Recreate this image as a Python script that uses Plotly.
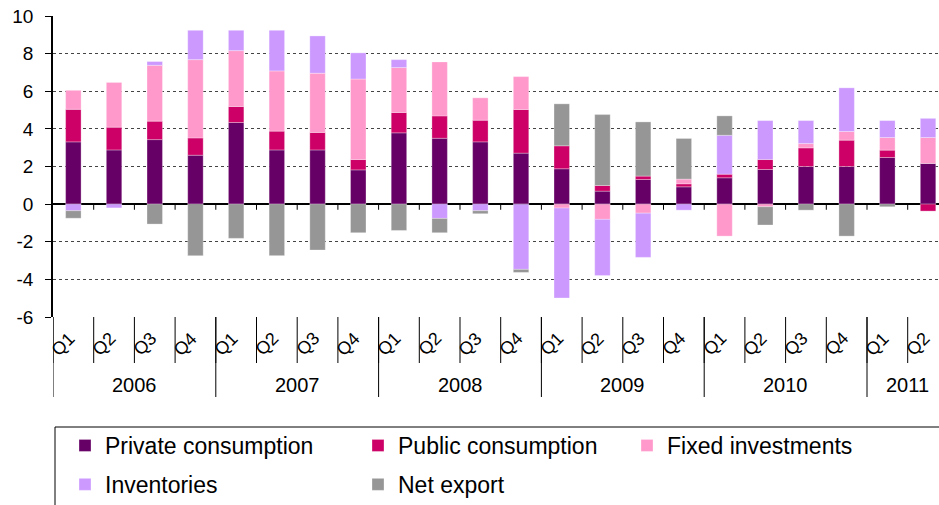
import plotly.graph_objects as go

quarters = ["Q1", "Q2", "Q3", "Q4"] * 5 + ["Q1", "Q2"]
years = ["2006", "2007", "2008", "2009", "2010", "2011"]
year_quarters = [4, 4, 4, 4, 4, 2]

private_consumption = [3.31, 2.88, 3.43, 2.60, 4.34, 2.88, 2.88, 1.82,
                       3.79, 3.50, 3.31, 2.71, 1.88, 0.69, 1.31, 0.92,
                       1.40, 1.84, 2.00, 2.00, 2.48, 2.16]
public_consumption = [1.73, 1.21, 0.98, 0.92, 0.85, 1.00, 0.93, 0.55,
                      1.08, 1.19, 1.15, 2.32, 1.22, 0.30, 0.18, 0.16,
                      0.19, 0.53, 0.99, 1.40, 0.39, -0.37]
fixed_investments = [1.01, 2.39, 2.97, 4.16, 2.97, 3.20, 3.15, 4.28,
                     2.39, 2.87, 1.19, 1.75, -0.21, -0.81, -0.48, 0.25,
                     -1.70, -0.14, 0.23, 0.46, 0.67, 1.38]
inventories = [-0.35, -0.20, 0.20, 1.56, 1.08, 2.16, 1.98, 1.39,
               0.42, -0.76, -0.35, -3.47, -4.78, -2.99, -2.35, -0.32,
               2.07, 2.07, 1.22, 2.32, 0.90, 1.03]
net_export = [-0.40, 0.00, -1.06, -2.74, -1.82, -2.74, -2.44, -1.52,
              -1.40, -0.76, -0.16, -0.16, 2.23, 3.77, 2.88, 2.16,
              1.03, -0.97, -0.32, -1.70, -0.14, 0.00]

y_ticks = [10, 8, 6, 4, 2, 0, -2, -4, -6]
y_tick_labels = ["10", "8", "6", "4", "2", "0", "-2", "-4", "-6"]

series = [
    ("Private consumption", private_consumption, "#660066", "legend"),
    ("Public consumption", public_consumption, "#CC0066", "legend2"),
    ("Fixed investments", fixed_investments, "#FF99CC", "legend3"),
    ("Inventories", inventories, "#CC99FF", "legend"),
    ("Net export", net_export, "#969696", "legend2"),
]

FONT = "Arial, Liberation Sans, sans-serif"
W, H = 939, 505
ML, MR, MT, MB = 53, 0, 16, 188
PW = W - ML - MR
PH = H - MT - MB

def px_to_paper_y(py):
    return (H - MB - py) / PH

def px_to_paper_x(px):
    return (px - ML) / PW

n = len(quarters)
x_idx = list(range(n))

fig = go.Figure()
for name, vals, color, leg in series:
    fig.add_trace(go.Bar(
        x=x_idx, y=vals, name=name, legend=leg, legendgroup=name,
        marker=dict(color=color, line=dict(color="rgba(255,255,255,0.5)", width=0.6)),
        width=0.38,
    ))

shapes = []
# small ticks on the zero line at category boundaries
for k in range(n - 1):
    shapes.append(dict(type="line", xref="x", yref="y", x0=k + 0.5, x1=k + 0.5,
                       y0=0, y1=-0.3, line=dict(color="black", width=1)))
# quarter dividers below the axis
for k in range(n + 1):
    shapes.append(dict(type="line", xref="x", yref="paper", x0=k - 0.5, x1=k - 0.5,
                       y0=0, y1=px_to_paper_y(363), line=dict(color="black", width=1)))
# year dividers
pos = 0
for cnt in year_quarters:
    shapes.append(dict(type="line", xref="x", yref="paper", x0=pos - 0.5, x1=pos - 0.5,
                       y0=0, y1=px_to_paper_y(397), line=dict(color="black", width=1)))
    pos += cnt
# legend box
shapes.append(dict(type="rect", xref="paper", yref="paper",
                   x0=px_to_paper_x(55), x1=px_to_paper_x(960),
                   y0=px_to_paper_y(427), y1=px_to_paper_y(520),
                   line=dict(color="black", width=1), fillcolor="rgba(0,0,0,0)"))

annotations = []
for i, q in enumerate(quarters):
    annotations.append(dict(x=i, y=px_to_paper_y(344), xref="x", yref="paper",
                            xanchor="center", yanchor="middle",
                            text=q, showarrow=False, textangle=-45, xshift=-10,
                            font=dict(family=FONT, size=18, color="black")))
pos = 0
for yr, cnt in zip(years, year_quarters):
    annotations.append(dict(x=pos + (cnt - 1) / 2, y=px_to_paper_y(384.5), xref="x", yref="paper",
                            xanchor="center", yanchor="middle",
                            text=yr, showarrow=False,
                            font=dict(family=FONT, size=20, color="black")))
    pos += cnt

leg_common = dict(orientation="v", yanchor="top", xanchor="left",
                  bgcolor="rgba(0,0,0,0)", borderwidth=0,
                  font=dict(family=FONT, size=23, color="black"),
                  tracegroupgap=6, y=px_to_paper_y(424))

fig.update_layout(
    width=W, height=H,
    margin=dict(l=ML, r=MR, t=MT, b=MB, autoexpand=False),
    paper_bgcolor="white", plot_bgcolor="white",
    barmode="relative", bargap=0.6,
    showlegend=True,
    legend=dict(x=px_to_paper_x(65), **leg_common),
    legend2=dict(x=px_to_paper_x(358), **leg_common),
    legend3=dict(x=px_to_paper_x(627), **leg_common),
    xaxis=dict(range=[-0.5, (W - ML) / 40.7 - 0.5], showticklabels=False, showgrid=False,
               zeroline=False, showline=False, ticks=""),
    yaxis=dict(range=[-6, 10], tickvals=y_ticks, ticktext=y_tick_labels,
               showgrid=True, gridcolor="#444444", griddash="dot", gridwidth=1,
               zeroline=True, zerolinecolor="black", zerolinewidth=1.5,
               showline=True, linecolor="black", linewidth=1.5,
               ticks="outside", ticklen=6, tickcolor="black", ticklabelstandoff=8,
               tickfont=dict(family=FONT, size=19, color="black")),
    shapes=shapes, annotations=annotations,
)

fig.write_html("out.html", config={"displayModeBar": False},
               post_script="document.body.style.margin='0';document.body.style.overflow='hidden';")
